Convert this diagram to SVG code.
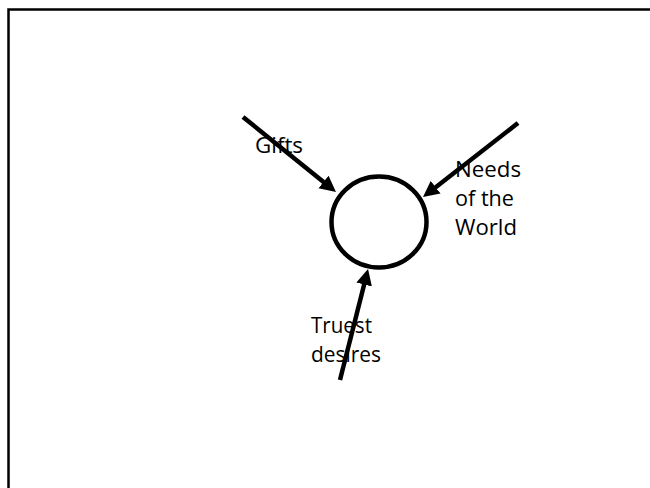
<svg xmlns="http://www.w3.org/2000/svg" width="650" height="488" viewBox="0 0 650 488">
  <style>
    .lbl { font-family: "Open Sans", "Liberation Sans", sans-serif; font-size: 22px; fill: #000; }
    .conn { stroke: #000; stroke-width: 4.5; fill: none; }
  </style>
  <defs>
    <marker id="arrow" markerUnits="userSpaceOnUse" markerWidth="17" markerHeight="17" refX="6" refY="8" orient="auto">
      <path d="M0,0 L16,8 L0,16 z" fill="#000"/>
    </marker>
  </defs>
  <rect x="0" y="0" width="650" height="488" fill="#fff"/>
  <rect x="8.5" y="9.5" width="700" height="520" fill="none" stroke="#000" stroke-width="2.5"/>
  <g id="center">
    <ellipse cx="379" cy="222" rx="47.5" ry="45.5" fill="none" stroke="#000" stroke-width="4.5"/>
  </g>
  <g id="connectors">
    <path class="conn" d="M243,117 L328.2,185.7" marker-end="url(#arrow)"/>
    <path class="conn" d="M518,123 L430.9,190.9" marker-end="url(#arrow)"/>
    <path class="conn" d="M340,380 L365.6,278.7" marker-end="url(#arrow)"/>
  </g>
  <g id="gifts">
    <text class="lbl" x="255" y="153" textLength="48" lengthAdjust="spacingAndGlyphs">Gifts</text>
  </g>
  <g id="needs">
    <text class="lbl" x="455" y="176.5" textLength="66" lengthAdjust="spacingAndGlyphs">Needs</text>
    <text class="lbl" x="455" y="205.5" textLength="59" lengthAdjust="spacingAndGlyphs">of the</text>
    <text class="lbl" x="455" y="235" textLength="62" lengthAdjust="spacingAndGlyphs">World</text>
  </g>
  <g id="truest">
    <text class="lbl" x="311" y="332.5" textLength="61" lengthAdjust="spacingAndGlyphs">Truest</text>
    <text class="lbl" x="311" y="361.5" textLength="70" lengthAdjust="spacingAndGlyphs">desires</text>
  </g>
</svg>
